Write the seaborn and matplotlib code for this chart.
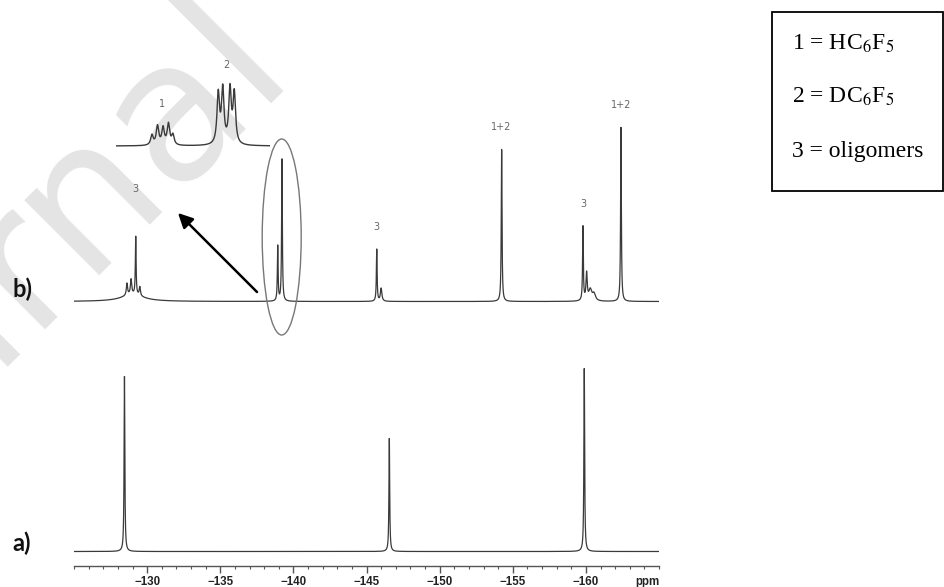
import numpy as np
import pandas as pd
import matplotlib
matplotlib.use("Agg")
import matplotlib.pyplot as plt
import seaborn as sns
from matplotlib.patches import Ellipse, Rectangle
from matplotlib.ticker import FixedLocator, MultipleLocator, FuncFormatter

# --- data (ppm, peak height in px, half width in ppm) ---
# a) starting material
a_shift = [-128.45, -146.56, -159.89]
a_height = [175, 113, 183]
a_width = [0.03, 0.03, 0.03]

# b) after reaction
b_shift = [-129.0, -128.62, -128.90, -129.22, -129.50, -138.93, -139.22,
           -145.70, -146.00, -154.24, -159.80, -160.05, -160.30, -160.55, -162.40]
b_height = [7, 12, 15, 58, 9, 55, 142, 52, 13, 152, 74, 27, 11, 7, 174]
b_width = [0.9, 0.05, 0.05, 0.03, 0.05, 0.03, 0.03,
           0.03, 0.06, 0.03, 0.03, 0.05, 0.12, 0.12, 0.03]

# peak assignments in b) (label gap above the peak top, px)
b_label_shift = [-129.22, -145.70, -154.24, -159.80, -162.40]
b_label_text = ["3", "3", "1+2", "3", "1+2"]
b_label_gap = [47, 22, 22, 22, 22]

# inset: expansion of the -139 ppm region (1 = HC6F5, 2 = DC6F5)
inset_shift = [-138.888, -138.914, -138.940, -138.965, -138.986,
               -139.198, -139.219, -139.253, -139.273]
inset_height = [10, 19, 17, 21, 10, 50, 54, 54, 50]
inset_label_shift = [-138.937, -139.236]
inset_label_text = ["1", "2"]

legend_lines = [r"1 = HC$_6$F$_5$", r"2 = DC$_6$F$_5$", "3 = oligomers"]


def spectrum(x, shifts, heights, widths):
    y = np.zeros_like(x)
    for p, h, g in zip(shifts, heights, widths):
        y += h * g ** 2 / ((x - p) ** 2 + g ** 2)
    return y


sns.set_theme(style="white")
plt.rcParams["font.family"] = ["DejaVu Sans"]
plt.rcParams["mathtext.fontset"] = "stix"

W, H = 944, 587
fig = plt.figure(figsize=(W / 100, H / 100), dpi=100)

# watermark behind everything
fig.text(300 / W, 1 - 85 / H, "Journal", rotation=45, rotation_mode="anchor",
         ha="right", va="baseline", fontsize=140, color="#e4e4e4", zorder=-5)

# main axes: 1 y-unit = 1 px
ax = fig.add_axes([74 / W, 21 / H, 585 / W, 566 / H])
ax.patch.set_alpha(0)
ppm = np.linspace(-125, -165, 20001)
base_a, base_b = 14.5, 264.5

df = pd.DataFrame({
    "ppm": np.concatenate([ppm, ppm]),
    "I": np.concatenate([base_a + spectrum(ppm, a_shift, a_height, a_width),
                         base_b + spectrum(ppm, b_shift, b_height, b_width)]),
    "trace": ["a"] * len(ppm) + ["b"] * len(ppm),
})
sns.lineplot(data=df, x="ppm", y="I", units="trace", estimator=None, sort=False,
             color="#3a3a3a", lw=0.9, ax=ax)

for s, t, gap in zip(b_label_shift, b_label_text, b_label_gap):
    top = base_b + spectrum(np.array([s]), b_shift, b_height, b_width)[0]
    ax.text(s, top + gap, t, ha="center", va="center", fontsize=7, color="#666666")

ax.set_xlim(-125, -165)
ax.set_ylim(0, 566)
ax.set_xlabel("")
ax.set_ylabel("")
for side in ["top", "left", "right"]:
    ax.spines[side].set_visible(False)
ax.spines["bottom"].set_color("#555555")
ax.spines["bottom"].set_linewidth(1)
ax.set_yticks([])
ax.xaxis.set_major_locator(FixedLocator([-130, -135, -140, -145, -150, -155, -160]))
ax.xaxis.set_minor_locator(MultipleLocator(1))
ax.xaxis.set_major_formatter(FuncFormatter(lambda v, p: "\u2212%d" % abs(v)))
ax.tick_params(axis="x", which="major", length=5, width=1, color="#555555",
               pad=2.5, labelsize=8.3, labelcolor="#222222", bottom=True)
ax.tick_params(axis="x", which="minor", length=2.5, width=0.8, color="#555555", bottom=True)
for lab in ax.get_xticklabels():
    lab.set_fontfamily("Liberation Sans")
    lab.set_fontweight("bold")
ax.text(-164.2, -16, "ppm", ha="center", va="center", fontsize=8.3,
        fontweight="bold", family="Liberation Sans", color="#222222", clip_on=False)

# inset expansion
ins = fig.add_axes([116 / W, 1 - 160 / H, 154 / W, 110 / H])
ins.patch.set_alpha(0)
ip = np.linspace(-138.72, -139.44, 3001)
iw = [0.007] * len(inset_shift)
iy = spectrum(ip, inset_shift, inset_height, iw)
sns.lineplot(x=ip, y=iy, sort=False, color="#3a3a3a", lw=1.0, ax=ins)
for s, t in zip(inset_label_shift, inset_label_text):
    near = np.abs(ip - s) < 0.06
    ins.text(s, iy[near].max() + 18, t, ha="center", va="center", fontsize=7,
             color="#666666", clip_on=False)
ins.set_xlim(-138.72, -139.44)
ins.set_ylim(-14, 96)
ins.axis("off")

# overlay in pixel units for annotations
ov = fig.add_axes([0, 0, 1, 1])
ov.set_xlim(0, W)
ov.set_ylim(H, 0)
ov.axis("off")
ov.patch.set_alpha(0)
ov.add_patch(Ellipse((281.7, 237), 39, 196, fill=False, ec="#777777", lw=1))
ov.annotate("", xy=(178, 213), xytext=(257, 292),
            arrowprops=dict(arrowstyle="-|>", color="black", lw=1.8,
                            mutation_scale=22, shrinkA=0, shrinkB=0))
ov.text(12, 551, "a)", fontsize=17, fontweight="bold", family="Lato",
        ha="left", va="baseline", color="#111111")
ov.text(12, 297, "b)", fontsize=17, fontweight="bold", family="Lato",
        ha="left", va="baseline", color="#111111")

ov.add_patch(Rectangle((772, 11.7), 171, 179, fill=False, ec="black", lw=1.3))
for yb, t in zip([50, 103, 157], legend_lines):
    ov.text(792, yb, t, fontsize=17, family="Liberation Serif", ha="left",
            va="baseline", color="black")

fig.savefig("out.png", dpi=100)
